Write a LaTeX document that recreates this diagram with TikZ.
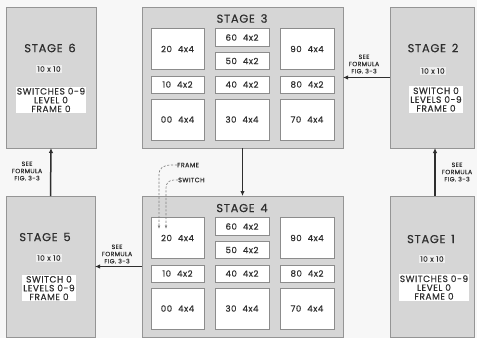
\documentclass[tikz,border=0pt]{standalone}
\usepackage{fontspec}
\setmainfont[LetterSpace=6,FakeBold=0.4]{Poppins}
\usetikzlibrary{arrows.meta}
\definecolor{bg}{HTML}{F7F7F7}
\definecolor{stagefill}{HTML}{D6D6D6}
\definecolor{stageline}{HTML}{959595}
\definecolor{ink}{HTML}{2E2E2E}
\definecolor{cellline}{HTML}{8C8C8C}
\newcommand\gapx{\hspace{0.7em}}
\newcommand\cellgrid[2]{%
  \node[cell, minimum width=53pt, minimum height=41pt] (#1-20) at (151,{#2+21.5}) {20\gapx 4x4};
  \node[cell, minimum width=54pt, minimum height=18pt] (#1-60) at (215,{#2+21.5}) {60\gapx 4x2};
  \node[cell, minimum width=54pt, minimum height=17pt] (#1-50) at (215,{#2+45.5}) {50\gapx 4x2};
  \node[cell, minimum width=54pt, minimum height=41pt] (#1-90) at (280,{#2+21.5}) {90\gapx 4x4};
  \node[cell, minimum width=53pt, minimum height=17pt] (#1-10) at (151,{#2+69}) {10\gapx 4x2};
  \node[cell, minimum width=54pt, minimum height=17pt] (#1-40) at (215,{#2+69}) {40\gapx 4x2};
  \node[cell, minimum width=54pt, minimum height=17pt] (#1-80) at (280,{#2+69}) {80\gapx 4x2};
  \node[cell, minimum width=53pt, minimum height=41pt] (#1-00) at (151,{#2+92}) {00\gapx 4x4};
  \node[cell, minimum width=54pt, minimum height=41pt] (#1-30) at (215,{#2+92}) {30\gapx 4x4};
  \node[cell, minimum width=54pt, minimum height=41pt] (#1-70) at (280,{#2+92}) {70\gapx 4x4};
}
\begin{document}
\begin{tikzpicture}[x=1pt,y=-1pt,
  stagebox/.style={draw=stageline, fill=stagefill, line width=0.8pt, inner sep=0pt, outer sep=0pt, anchor=north west},
  cell/.style={draw=cellline, fill=white, line width=0.7pt, inner sep=0pt, outer sep=0pt, anchor=north west, text=ink, font=\fontsize{8.6}{9}\selectfont},
  title/.style={text=ink, inner sep=0pt, font=\fontsize{11.5}{12}\selectfont},
  dim/.style={fill=white!60!stagefill, text=ink, inner sep=1pt, font=\fontsize{7.4}{8}\selectfont},
  info/.style={fill=white, text=ink, inner xsep=1pt, inner ysep=1pt, align=center, font=\fontsize{9}{8.8}\selectfont},
  note/.style={text=ink, inner sep=0pt, align=center, font=\fontsize{6.2}{7.2}\selectfont},
  conn/.style={draw=ink, line width=1.5pt, -{Latex[length=5pt,width=4.5pt]}},
  tag/.style={dashed, dash pattern=on 2.2pt off 1.6pt, draw=ink!60, line width=0.65pt, -{Latex[length=3.5pt,width=2.8pt]}},
  tagtext/.style={text=ink, inner sep=0pt, anchor=west, font=\fontsize{6.4}{7}\selectfont}]
\fill[bg] (0,0) rectangle (477,338);
\useasboundingbox (0,0) rectangle (477,338);
% stage boxes
\node[stagebox, minimum width=90pt, minimum height=141pt] (s6) at (6,7) {};
\node[stagebox, minimum width=201pt, minimum height=141pt] (s3) at (142,7) {};
\node[stagebox, minimum width=84pt, minimum height=141pt] (s2) at (390,7) {};
\node[stagebox, minimum width=89pt, minimum height=141pt] (s5) at (6,196) {};
\node[stagebox, minimum width=201pt, minimum height=141pt] (s4) at (142,196) {};
\node[stagebox, minimum width=84pt, minimum height=141pt] (s1) at (390,196) {};
% stage 6
\node[title] (t6) at (50,48) {STAGE\enspace 6};
\node[dim] (d6) at (49,69) {10 x 10};
\node[info] (i6) at (51,100) {SWITCHES 0-9\\LEVEL 0\\FRAME 0};
% stage 2
\node[title] (t2) at (433,48) {STAGE\enspace 2};
\node[dim] (d2) at (433,71) {10 x 10};
\node[info] (i2) at (436,99.5) {SWITCH 0\\LEVELS 0-9\\FRAME 0};
% stage 5
\node[title] (t5) at (45,237) {STAGE\enspace 5};
\node[dim] (d5) at (49,258) {10 x 10};
\node[info] (i5) at (49,288) {SWITCH 0\\LEVELS 0-9\\FRAME 0};
% stage 1
\node[title] (t1) at (431,239) {STAGE\enspace 1};
\node[dim] (d1) at (432,259) {10 x 10};
\node[info] (i1) at (434,287.5) {SWITCHES 0-9\\LEVEL 0\\FRAME 0};
% stage 3 and 4
\node[title] (t3) at (242,18.5) {STAGE\enspace 3};
\cellgrid{c3}{7}
\node[title] (t4) at (242,208) {STAGE\enspace 4};
\cellgrid{c4}{196}
% connectors
\draw[conn] (s2.west) -- (s3.east);
\draw[conn] ([xshift=3pt]s1.north) -- ([xshift=3pt]s2.south);
\draw[conn] (s3.south) -- (s4.north);
\draw[conn] (s4.west) -- (s5.east);
\draw[conn] (s5.north) -- (s6.south);
% connector notes
\node[note] (n23) at (364,64) {SEE\\FORMULA\\FIG. 3-3};
\node[note] (n12) at (457,172) {SEE\\FORMULA\\FIG. 3-3};
\node[note] (n45) at (117,254) {SEE\\FORMULA\\FIG. 3-3};
\node[note] (n56) at (27,171) {SEE\\FORMULA\\FIG. 3-3};
% frame / switch tags
\node[tagtext] (fr) at (177,165) {FRAME};
\node[tagtext] (sw) at (178,180) {SWITCH};
\coordinate (fe) at (159,229);
\coordinate (se) at (166,229);
\draw[tag] (fr.west) -- (172,165) .. controls (163,165) and (159,168) .. (159,175) -- (fe);
\draw[tag] (sw.west) -- (174,180) .. controls (169,180) and (166,183) .. (166,188) -- (se);
\end{tikzpicture}
\end{document}
